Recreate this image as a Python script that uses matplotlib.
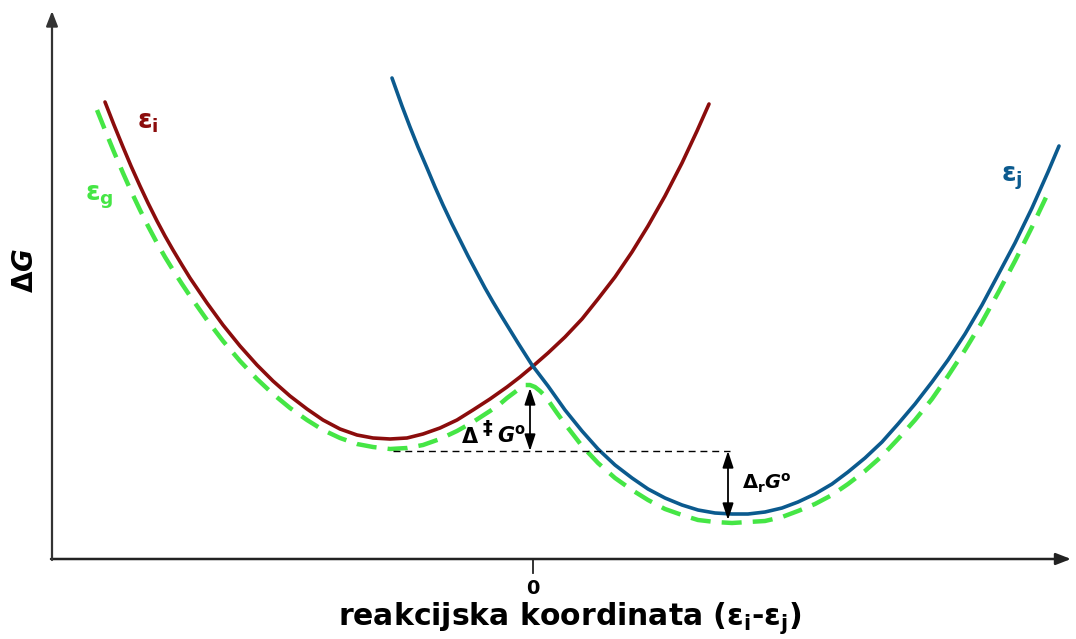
import matplotlib
matplotlib.use('Agg')
import matplotlib.pyplot as plt

plt.rcParams['font.family'] = ['DejaVu Sans']
plt.rcParams['mathtext.fontset'] = 'dejavusans'
plt.rcParams['mathtext.default'] = 'bf'

# reaction coordinate (x) and free energy (y), arbitrary units
red_x = [-428, -419, -410, -402, -393, -385, -376, -368, -360, -351,
         -343, -326, -310, -293, -276, -260, -243, -226, -210, -193,
         -176, -160, -143, -126, -110, -93, -76, -60, -43, -26,
         -13, -1, 15, 32, 49, 65, 82, 99, 115, 132,
         149, 164, 176]
red_y = [457, 434, 412, 393, 373, 356, 338, 323, 309, 294,
         281, 256, 234, 213, 194, 178, 163, 150, 139, 130,
         124, 121, 120, 121, 125, 131, 139, 149, 160, 172,
         182, 192, 206, 222, 240, 260, 282, 307, 333, 363,
         396, 428, 455]

blue_x = [-141, -131, -123, -115, -106, -98, -90, -81, -73, -65,
          -56, -48, -40, -31, -23, -15, -1, 15, 32, 49,
          65, 82, 99, 115, 132, 149, 165, 182, 199, 215,
          232, 249, 265, 282, 299, 315, 332, 349, 365, 382,
          399, 415, 432, 449, 465, 482, 499, 515, 526]
blue_y = [481, 453, 432, 412, 391, 372, 354, 335, 319, 303,
          286, 271, 257, 242, 229, 216, 194, 173, 149, 128,
          110, 94, 81, 70, 61, 54, 49, 46, 45, 45,
          47, 51, 57, 65, 75, 87, 101, 117, 135, 155,
          177, 199, 225, 254, 284, 316, 351, 387, 413]

green_x = [-436, -428, -419, -410, -402, -393, -385, -376, -368, -360,
           -351, -343, -326, -310, -293, -276, -260, -243, -226, -210,
           -193, -176, -160, -143, -126, -110, -93, -76, -60, -43,
           -33, -26, -18, -13, -8, -3, 2, 7, 12, 17,
           24, 32, 49, 65, 82, 99, 115, 132, 149, 165,
           182, 199, 215, 232, 249, 265, 282, 299, 315, 332,
           349, 365, 382, 399, 415, 432, 449, 465, 482, 499,
           507, 517]
green_y = [449, 429, 407, 386, 368, 349, 333, 316, 302, 289,
           275, 263, 239, 218, 198, 180, 165, 151, 139, 129,
           121, 115, 112, 110, 111, 114, 120, 128, 137, 148,
           155, 161, 167, 171, 174, 174, 172, 168, 163, 156,
           146, 135, 113, 96, 81, 69, 59, 50, 44, 39,
           37, 36, 37, 38, 42, 48, 55, 64, 75, 88,
           103, 120, 139, 160, 183, 209, 237, 266, 298, 332,
           349, 370]

# reference level and the two energy gaps
ref_level = 108
ref_x = [-140, 197]
barrier_x = -3
barrier_top = 171
product_x = 195
product_min = 39

red = '#8b0c0c'
blue = '#0b5a8e'
green = '#45e645'

fig = plt.figure(figsize=(10.76, 6.39), dpi=100)
ax = fig.add_axes([0, 0, 1, 1])
ax.set_xlim(-533, 543)
ax.set_ylim(-80, 559)
ax.axis('off')

# axes drawn as arrows
ax.annotate('', xy=(538, 0), xytext=(-482, 0),
            arrowprops=dict(arrowstyle='-|>,head_length=0.9,head_width=0.35', color='#222222', lw=1.8,
                            shrinkA=0, shrinkB=0))
ax.annotate('', xy=(-481, 548), xytext=(-481, -1),
            arrowprops=dict(arrowstyle='-|>,head_length=0.9,head_width=0.35', color='#333333', lw=1.6,
                            shrinkA=0, shrinkB=0))
ax.plot([0, 0], [0, -14], color='#222222', lw=1.3)

ax.plot(green_x, green_y, color=green, lw=3.2, dashes=(4.5, 2.5), solid_capstyle='butt')
ax.plot(red_x, red_y, color=red, lw=2.6, solid_capstyle='round')
ax.plot(blue_x, blue_y, color=blue, lw=2.6, solid_capstyle='round')

ax.plot(ref_x, [ref_level, ref_level], color='black', lw=1.0, dashes=(5, 3.5))

arrow_style = dict(arrowstyle='<|-|>,head_length=1.0,head_width=0.33', color='black', lw=1.3,
                   shrinkA=0, shrinkB=0)
ax.annotate('', xy=(barrier_x, barrier_top), xytext=(barrier_x, ref_level), arrowprops=arrow_style)
ax.annotate('', xy=(product_x, product_min), xytext=(product_x, ref_level), arrowprops=arrow_style)

# Δ‡G° built from three pieces so the double dagger keeps its full size
ax.text(-71, 122, 'Δ', fontsize=15, fontweight='bold', ha='left', va='center')
ax.text(-46, 130, '‡', fontsize=14, fontweight='bold', ha='center', va='center')
ax.text(-36, 124, r'$\mathbfit{G}^{o}$', fontsize=15, ha='left', va='center')
ax.text(234, 76, r'$\Delta_{r}\mathbfit{G}^{o}$', fontsize=14, ha='center', va='center')

ax.text(-385, 437, r'$\varepsilon_{i}$', fontsize=19, color=red, ha='center', va='center')
ax.text(-434, 362, r'$\varepsilon_{g}$', fontsize=19, color=green, ha='center', va='center')
ax.text(479, 381, r'$\varepsilon_{j}$', fontsize=19, color=blue, ha='center', va='center')

ax.text(0, -29, '0', fontsize=14, fontweight='bold', ha='center', va='center')
ax.text(37, -59, r'reakcijska koordinata ($\varepsilon_{i}$-$\varepsilon_{j}$)', fontsize=21.5,
        fontweight='bold', ha='center', va='center')
ax.text(-508, 289, r'$\Delta\mathbfit{G}$', fontsize=20, rotation=90, ha='center', va='center')

fig.savefig('out.png', dpi=100)
